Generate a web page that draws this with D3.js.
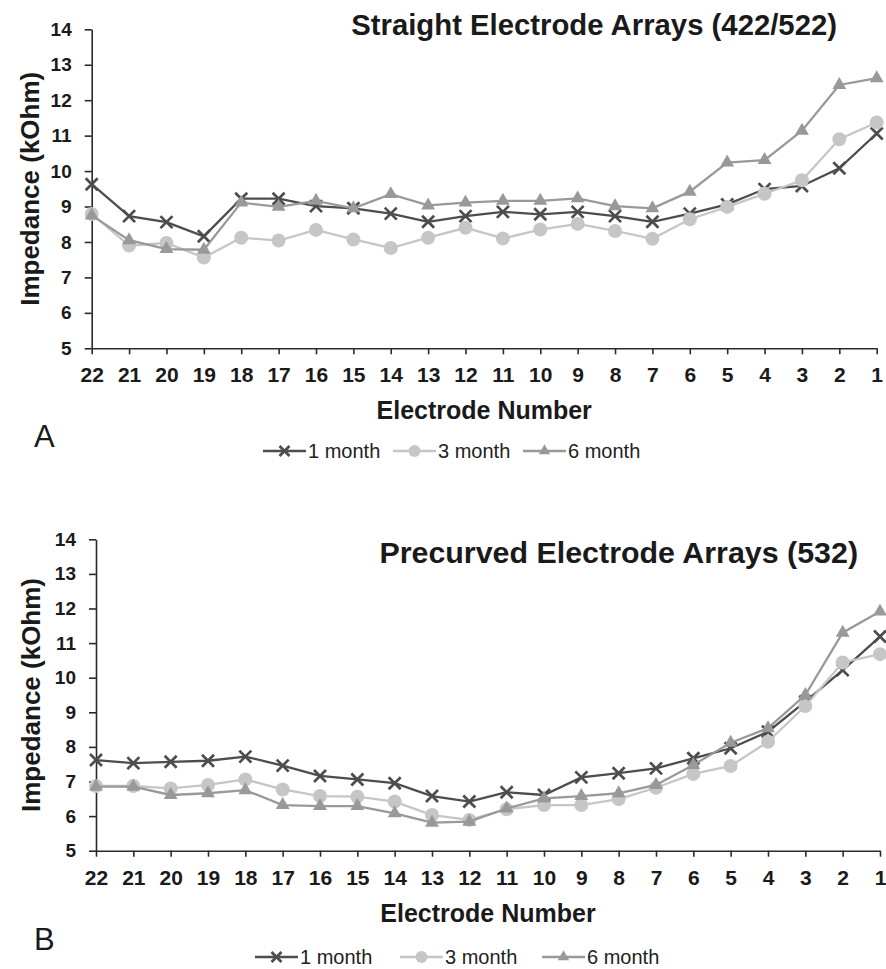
<!DOCTYPE html>
<html>
<head>
<meta charset="utf-8">
<script src="https://cdn.jsdelivr.net/npm/d3@7"></script>
<style>
  body { margin: 0; background: #fff; }
  svg text { font-family: "Liberation Sans", Arial, sans-serif; fill: #1a1a1a; }
</style>
</head>
<body>
<svg id="chart" width="886" height="969"></svg>
<script>
var electrodes = [22, 21, 20, 19, 18, 17, 16, 15, 14, 13, 12, 11, 10, 9, 8, 7, 6, 5, 4, 3, 2, 1];
var yTicks = [5, 6, 7, 8, 9, 10, 11, 12, 13, 14];
var seriesNames = ["1 month", "3 month", "6 month"];

// straight electrode arrays (422/522)
var straight1 = [9.63, 8.73, 8.56, 8.16, 9.22, 9.22, 9.01, 8.95, 8.80, 8.57, 8.73, 8.85, 8.78, 8.85, 8.73, 8.57, 8.80, 9.06, 9.49, 9.58, 10.08, 11.06];
var straight3 = [8.79, 7.90, 7.97, 7.56, 8.12, 8.04, 8.34, 8.07, 7.83, 8.12, 8.40, 8.10, 8.35, 8.51, 8.31, 8.09, 8.64, 8.99, 9.36, 9.74, 10.90, 11.37];
var straight6 = [8.75, 8.05, 7.80, 7.78, 9.11, 8.99, 9.16, 8.95, 9.35, 9.03, 9.11, 9.16, 9.16, 9.23, 9.01, 8.95, 9.42, 10.24, 10.31, 11.14, 12.43, 12.62];

// precurved electrode arrays (532)
var precurved1 = [7.62, 7.53, 7.57, 7.60, 7.72, 7.46, 7.16, 7.06, 6.95, 6.58, 6.42, 6.69, 6.61, 7.12, 7.24, 7.38, 7.67, 7.96, 8.44, 9.31, 10.22, 11.19];
var precurved3 = [6.87, 6.87, 6.80, 6.90, 7.06, 6.77, 6.58, 6.56, 6.42, 6.03, 5.89, 6.20, 6.32, 6.32, 6.49, 6.82, 7.22, 7.45, 8.15, 9.18, 10.44, 10.68];
var precurved6 = [6.85, 6.85, 6.61, 6.66, 6.75, 6.32, 6.29, 6.29, 6.08, 5.81, 5.84, 6.22, 6.51, 6.58, 6.66, 6.90, 7.48, 8.12, 8.54, 9.50, 11.30, 11.91];

var colors = ["#4d4d4d", "#c6c6c6", "#999999"];
var markers = ["x", "circle", "triangle"];

var svg = d3.select("#chart");

function drawMarker(g, type, color, s) {
  if (type == "x") {
    g.append("path")
      .attr("d", "M" + (-s) + "," + (-s) + "L" + s + "," + s + "M" + (-s) + "," + s + "L" + s + "," + (-s))
      .attr("stroke", color)
      .attr("stroke-width", 2.7)
      .attr("fill", "none");
  } else if (type == "circle") {
    g.append("circle").attr("r", s + 1).attr("fill", color);
  } else {
    g.append("path")
      .attr("d", d3.symbol().type(d3.symbolTriangle).size(s * s * 2.3)())
      .attr("fill", color);
  }
}

function drawPanel(p) {
  var x = d3.scalePoint().domain(electrodes).range([p.left, p.right]);
  var y = d3.scaleLinear().domain([5, 14]).range([p.bottom, p.top]);

  var xAxis = svg.append("g")
    .attr("transform", "translate(0," + p.bottom + ")")
    .call(d3.axisBottom(x).tickSize(6).tickSizeOuter(0).tickPadding(13));
  xAxis.selectAll("text").style("font-size", "21px").style("font-weight", "bold");

  var yAxis = svg.append("g")
    .attr("transform", "translate(" + p.left + ",0)")
    .call(d3.axisLeft(y).tickValues(yTicks).tickSize(7).tickSizeOuter(0).tickPadding(13));
  yAxis.selectAll("text").style("font-size", "19px").style("font-weight", "bold");

  svg.selectAll(".domain, .tick line").attr("stroke", "#2a2a2a").attr("stroke-width", 1.6);

  var line = d3.line()
    .x(function(d, i) { return x(electrodes[i]); })
    .y(function(d) { return y(d); });

  p.series.forEach(function(vals, k) {
    svg.append("path")
      .datum(vals)
      .attr("d", line)
      .attr("fill", "none")
      .attr("stroke", colors[k])
      .attr("stroke-width", 2.3);
    vals.forEach(function(v, i) {
      var g = svg.append("g").attr("transform", "translate(" + x(electrodes[i]) + "," + y(v) + ")");
      drawMarker(g, markers[k], colors[k], 6);
    });
  });

  svg.append("text")
    .attr("x", p.titleX)
    .attr("y", p.titleY)
    .attr("text-anchor", "end")
    .style("font-size", p.titleSize + "px")
    .style("font-weight", "bold")
    .text(p.title);

  svg.append("text")
    .attr("transform", "translate(" + p.ylabX + "," + (p.top + p.bottom) / 2 + ") rotate(-90)")
    .attr("text-anchor", "middle")
    .style("font-size", "26px")
    .style("font-weight", "bold")
    .text("Impedance (kOhm)");

  svg.append("text")
    .attr("x", (p.left + p.right) / 2)
    .attr("y", p.xlabY)
    .attr("text-anchor", "middle")
    .style("font-size", "25px")
    .style("font-weight", "bold")
    .text("Electrode Number");

  svg.append("text")
    .attr("x", 34)
    .attr("y", p.letterY)
    .style("font-size", "31px")
    .text(p.letter);

  p.legendX.forEach(function(lx, k) {
    var g = svg.append("g").attr("transform", "translate(" + lx + "," + p.legendY + ")");
    g.append("line").attr("x1", 0).attr("x2", 43).attr("stroke", colors[k]).attr("stroke-width", 2.3);
    var m = g.append("g").attr("transform", "translate(21.5,0)");
    drawMarker(m, markers[k], colors[k], 5);
    g.append("text")
      .attr("x", 45)
      .attr("dy", "0.35em")
      .style("font-size", "20px")
      .style("fill", "#222")
      .text(seriesNames[k]);
  });
}

drawPanel({
  left: 91.7, right: 876.7, top: 29.3, bottom: 348.3,
  series: [straight1, straight3, straight6],
  title: "Straight Electrode Arrays (422/522)", titleX: 837, titleY: 35, titleSize: 29.3,
  ylabX: 39, xlabY: 419, letter: "A", letterY: 447,
  legendX: [263, 393, 523], legendY: 451
});

drawPanel({
  left: 96, right: 880, top: 539.3, bottom: 850.7,
  series: [precurved1, precurved3, precurved6],
  title: "Precurved Electrode Arrays (532)", titleX: 858, titleY: 563, titleSize: 30.4,
  ylabX: 40, xlabY: 922, letter: "B", letterY: 950,
  legendX: [255, 400, 542], legendY: 957
});
</script>
</body>
</html>
